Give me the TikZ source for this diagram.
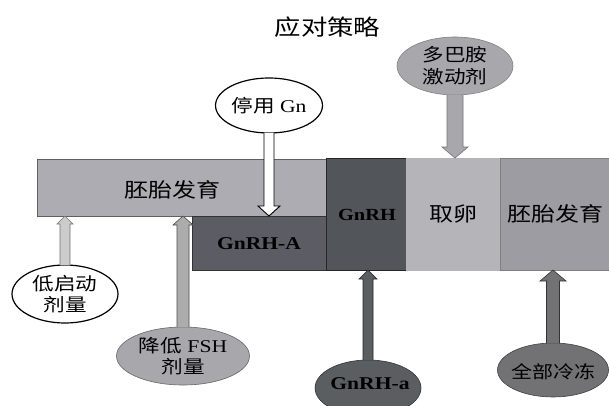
\documentclass[tikz,border=0pt]{standalone}
\usepackage{fontspec}
\setmainfont{Liberation Serif}[FakeStretch=1.2]
\newfontfamily\cjk{Noto Sans CJK SC}[FakeStretch=1.2]
\usetikzlibrary{shapes.geometric,calc}
\definecolor{barA}{HTML}{ADACB2}
\definecolor{boxA}{HTML}{5C5C64}
\definecolor{boxB}{HTML}{52555A}
\definecolor{eggc}{HTML}{B5B4B9}
\definecolor{embc}{HTML}{9D9CA2}
\definecolor{ellgray}{HTML}{A8A7AC}
\definecolor{elldark}{HTML}{5A5E60}
\definecolor{ellmid}{HTML}{727275}
\newcommand\zh[1]{{\cjk #1}}
\newcommand\ink[1]{{\color{black}#1}}
% vertical block arrow: start anchor, target anchor, half width, head half width, signed head length, style
\newcommand\varrow[6]{%
\coordinate (vaS) at (#1);
\coordinate (vaT) at (#1 |- #2);
\path[#6] ($(vaS)+(-#3,0)$) -- ($(vaT)+(-#3,#5)$) -- ($(vaT)+(-#4,#5)$) -- (vaT)
 -- ($(vaT)+(#4,#5)$) -- ($(vaT)+(#3,#5)$) -- ($(vaS)+(#3,0)$);}
\tikzset{
  blk/.style={rectangle, inner sep=0pt, outer sep=0pt, draw=#1, line width=0.6pt},
  oval/.style={ellipse, inner sep=0pt, outer sep=0pt, align=center},
  lbl/.style={inner sep=0pt, align=center},
  t20/.style={font=\fontsize{20}{24}\selectfont},
}
\begin{document}
\begin{tikzpicture}[x=1pt,y=-1pt]
\useasboundingbox (0,0) rectangle (609,406);
\clip (0,0) rectangle (609,406);
\fill[white] (0,0) rectangle (609,406);
% title
\node[lbl, font=\fontsize{22}{26}\selectfont] (title) at (327.5,27) {\ink{\zh{应对策略}}};
% bars
\node[blk=gray!75!black, fill=barA, minimum width=289, minimum height=57] (bar1) at (181.5,187.5) {};
\node[blk=gray!40!black, fill=boxA, minimum width=134, minimum height=54] (gnrhA) at (259,243) {};
\node[blk=gray!30!black, fill=boxB, minimum width=80, minimum height=112] (gnrh) at (366,214) {};
\node[blk=eggc, fill=eggc, minimum width=94, minimum height=112] (egg) at (453,214) {};
\node[blk=gray, fill=embc, minimum width=112, minimum height=112] (emb) at (556,214) {};
\node[lbl, t20] (bar1t) at (172,190) {\ink{\zh{胚胎发育}}};
\node[lbl, font=\fontsize{18}{21}\selectfont\bfseries] (gnrhAt) at (259,244) {\ink{GnRH-A}};
\node[lbl, font=\fontsize{17}{20}\selectfont\bfseries] (gnrht) at (367,215) {\ink{GnRH}};
\node[lbl, t20] (eggt) at (453,214) {\ink{\zh{取卵}}};
\node[lbl, t20] (embt) at (555,214) {\ink{\zh{胚胎发育}}};
% ellipses
\node[oval, draw=black, line width=1.2pt, fill=white, minimum width=107, minimum height=55] (stop) at (269,105.5) {};
\node[oval, draw=gray, line width=0.6pt, fill=ellgray, minimum width=116, minimum height=58] (dopa) at (455,66) {};
\node[oval, draw=black, line width=1.2pt, fill=white, minimum width=106, minimum height=58] (low) at (65,294) {};
\node[oval, draw=gray!80!black, line width=0.6pt, fill=ellgray, minimum width=133, minimum height=58] (fsh) at (183,356) {};
\node[oval, draw=gray!40!black, line width=0.6pt, fill=elldark, minimum width=106, minimum height=56] (gnrha) at (368,388) {};
\node[oval, draw=gray!50!black, line width=0.6pt, fill=ellmid, minimum width=111, minimum height=54] (freeze) at (553,370) {};
\node[lbl, font=\fontsize{18}{21}\selectfont] (stopt) at (stop) {\ink{\zh{停用} Gn}};
\node[lbl, font=\fontsize{18}{22}\selectfont] (dopat) at (dopa) {\ink{\zh{多巴胺}}\\\ink{\zh{激动剂}}};
\node[lbl, font=\fontsize{18}{21}\selectfont] (lowt) at (low) {\ink{\zh{低启动}}\\\ink{\zh{剂量}}};
\node[lbl, font=\fontsize{18}{21}\selectfont] (fsht) at (fsh) {\ink{\zh{降低} FSH}\\\ink{\zh{剂量}}};
\node[lbl, font=\fontsize{18}{21}\selectfont\bfseries] (gnrhat) at (370,384) {\ink{GnRH-a}};
\node[lbl, font=\fontsize{17.5}{21}\selectfont] (freezet) at (553,372) {\ink{\zh{全部冷冻}}};
% arrows
\varrow{stop.south}{gnrhA.north}{5}{11}{-10}{fill=white, draw=black, line width=0.9pt}
\varrow{dopa.south}{egg.north}{8}{13}{-11}{fill=ellgray, draw=gray!90!black, line width=0.6pt}
\varrow{low.north}{bar1.south}{5}{8}{8}{fill=gray!40, draw=gray!90!black, line width=0.6pt}
\varrow{fsh.north}{bar1.south}{6}{10}{9}{fill=gray!65, draw=gray!60!black, line width=0.6pt}
\varrow{gnrha.north}{gnrh.south}{5}{9}{9}{fill=elldark, draw=gray!30!black, line width=0.6pt}
\varrow{freeze.north}{emb.south}{6.5}{13}{11}{fill=ellmid, draw=gray!40!black, line width=0.6pt}
\end{tikzpicture}
\end{document}
